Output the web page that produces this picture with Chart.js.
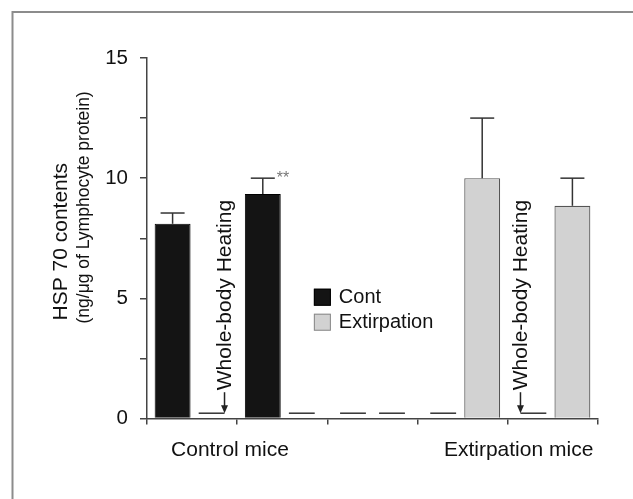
<!DOCTYPE html>
<html lang="en">
<head>
<meta charset="UTF-8" />
<title>HSP 70 contents</title>
<script src="https://cdn.jsdelivr.net/npm/chart.js"></script>
<style>
    body { margin: 0; background: #fff; }
    canvas { display: block; }
</style>
</head>
<body>
<canvas id="hspChart" width="633" height="499"></canvas>
<script>
// values; 0 = not detected (drawn as a short dash)
const slots = ['1', '2', '3', '4', '5'];
const contValues = [8.1, 9.34, 0, 0, 0];
const contSD = [0.45, 0.66, 0, 0, 0];
const extValues = [0, 0, 0, 10.0, 8.85];
const extSD = [0, 0, 0, 2.5, 1.15];
const yTicks = [0, 5, 10, 15];
const groupLabels = ['Control mice', 'Extirpation mice'];
const groupAt = [0.42, 3.62];
const ndLevel = 0.22;
const heating = [{ ds: 1, idx: 0, side: 1 }, { ds: 0, idx: 4, side: -1 }];
const signif = [{ ds: 0, idx: 1, text: '**' }];

const FONT = '"Liberation Sans", Arial, sans-serif';
const INK = '#111';

function line(ctx, x1, y1, x2, y2) {
    ctx.beginPath();
    ctx.moveTo(x1, y1);
    ctx.lineTo(x2, y2);
    ctx.stroke();
}

const decor = {
    id: 'decor',
    beforeDraw(chart) {
        const ctx = chart.ctx;
        ctx.save();
        ctx.strokeStyle = '#8c8c8c';
        ctx.lineWidth = 2;
        ctx.beginPath();
        ctx.moveTo(12.5, chart.height);
        ctx.lineTo(12.5, 12);
        ctx.lineTo(chart.width, 12);
        ctx.stroke();
        ctx.restore();
    },
    afterDatasetsDraw(chart) {
        const ctx = chart.ctx;
        const y = chart.scales.y;
        const x = chart.scales.x;
        const area = chart.chartArea;
        const sds = [contSD, extSD];
        ctx.save();

        // error bars (upper only) and ND dashes
        chart.data.datasets.forEach((ds, d) => {
            chart.getDatasetMeta(d).data.forEach((bar, i) => {
                const v = ds.data[i];
                ctx.strokeStyle = '#333';
                ctx.lineWidth = 1.5;
                if (v === 0) {
                    const yy = y.getPixelForValue(ndLevel);
                    const half = bar.width * 0.36;
                    line(ctx, bar.x - half, yy, bar.x + half, yy);
                    return;
                }
                const sd = sds[d][i];
                if (!sd) return;
                const top = y.getPixelForValue(v + sd);
                line(ctx, bar.x, bar.y, bar.x, top);
                line(ctx, bar.x - 12, top, bar.x + 12, top);
            });
        });

        // whole-body heating arrows
        heating.forEach(h => {
            const bar = chart.getDatasetMeta(h.ds).data[h.idx];
            const ax = bar.x + h.side * bar.width * 0.36;
            const tip = y.getPixelForValue(ndLevel);
            const start = tip - 21;
            ctx.strokeStyle = '#222';
            ctx.fillStyle = '#222';
            ctx.lineWidth = 1.5;
            line(ctx, ax, start, ax, tip - 4);
            ctx.beginPath();
            ctx.moveTo(ax - 3.5, tip - 8);
            ctx.lineTo(ax + 3.5, tip - 8);
            ctx.lineTo(ax, tip);
            ctx.closePath();
            ctx.fill();
            ctx.save();
            ctx.translate(ax + 1, start - 2);
            ctx.rotate(-Math.PI / 2);
            ctx.font = '21px ' + FONT;
            ctx.fillStyle = INK;
            ctx.textAlign = 'left';
            ctx.textBaseline = 'middle';
            ctx.fillText('Whole-body Heating', 0, 0);
            ctx.restore();
        });

        // significance marks
        signif.forEach(s => {
            const bar = chart.getDatasetMeta(s.ds).data[s.idx];
            const v = chart.data.datasets[s.ds].data[s.idx] + sds[s.ds][s.idx];
            ctx.font = '16px ' + FONT;
            ctx.fillStyle = '#777';
            ctx.textAlign = 'left';
            ctx.textBaseline = 'alphabetic';
            ctx.fillText(s.text, bar.x + 14, y.getPixelForValue(v) + 5);
        });

        // group labels under the axis
        ctx.font = '21px ' + FONT;
        ctx.fillStyle = INK;
        ctx.textAlign = 'center';
        ctx.textBaseline = 'middle';
        groupLabels.forEach((lab, i) => {
            ctx.fillText(lab, x.getPixelForValue(groupAt[i]), area.bottom + 32);
        });

        // y axis title, two lines, start-aligned
        ctx.save();
        ctx.translate(area.left - 86, area.bottom - 98);
        ctx.rotate(-Math.PI / 2);
        ctx.textAlign = 'left';
        ctx.font = '21px ' + FONT;
        ctx.fillText('HSP 70 contents', 0, 0);
        ctx.font = '17.5px ' + FONT;
        ctx.fillText('(ng/\u03bcg of Lymphocyte protein)', -3, 23);
        ctx.restore();

        // legend inside the plot
        const lx = area.left + area.width * 0.37;
        const ly = area.top + area.height * 0.64;
        chart.data.datasets.forEach((ds, d) => {
            const by = ly + d * 25;
            ctx.fillStyle = ds.backgroundColor;
            ctx.fillRect(lx, by, 17, 17);
            ctx.strokeStyle = d === 0 ? '#000' : '#888';
            ctx.lineWidth = 1;
            ctx.strokeRect(lx + 0.5, by + 0.5, 16, 16);
            ctx.fillStyle = INK;
            ctx.font = '20px ' + FONT;
            ctx.textAlign = 'left';
            ctx.textBaseline = 'middle';
            ctx.fillText(ds.label, lx + 25, by + 9);
        });
        ctx.restore();
    }
};

new Chart(document.getElementById('hspChart'), {
    type: 'bar',
    data: {
        labels: slots,
        datasets: [
            {
                label: 'Cont',
                data: contValues,
                backgroundColor: '#141414',
                borderColor: '#000',
                borderWidth: c => (c.raw ? 1 : 0)
            },
            {
                label: 'Extirpation',
                data: extValues,
                backgroundColor: '#d2d2d2',
                borderColor: '#555',
                borderWidth: c => (c.raw ? 1.2 : 0)
            }
        ]
    },
    options: {
        responsive: false,
        animation: false,
        categoryPercentage: 0.865,
        barPercentage: 0.92,
        layout: { padding: { left: 0, top: 58, right: 35, bottom: 0 } },
        plugins: {
            legend: { display: false },
            tooltip: { enabled: false }
        },
        scales: {
            x: {
                offset: true,
                grid: { offset: true, drawOnChartArea: false, tickLength: 6, color: '#444', lineWidth: 1.5 },
                border: { display: true, color: '#444', width: 1.5 },
                ticks: { display: false },
                afterFit: s => { s.height = 80.5; }
            },
            y: {
                min: 0,
                max: 15,
                grid: { drawOnChartArea: false, tickLength: 7, color: '#444', lineWidth: 1.5 },
                border: { display: true, color: '#444', width: 1.5 },
                ticks: {
                    stepSize: 2.5,
                    padding: 12,
                    color: INK,
                    font: { family: FONT, size: 20.5 },
                    callback: v => (yTicks.includes(v) ? v : '')
                },
                afterFit: s => { s.width = 147; }
            }
        }
    },
    plugins: [decor]
});
</script>
</body>
</html>
